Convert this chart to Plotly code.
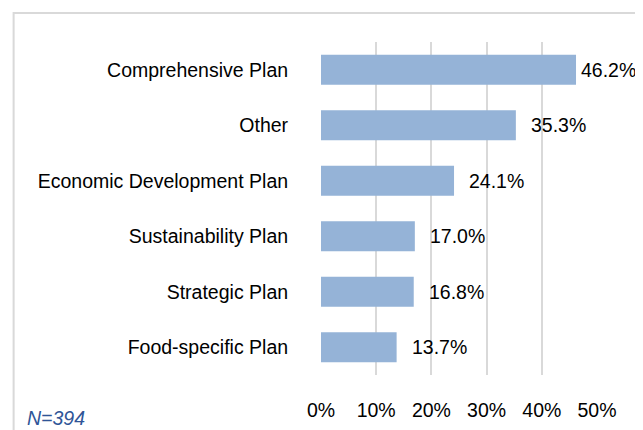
import plotly.graph_objects as go

categories = ["Comprehensive Plan", "Other", "Economic Development Plan",
              "Sustainability Plan", "Strategic Plan", "Food-specific Plan"]
values = [0.462, 0.353, 0.241, 0.170, 0.168, 0.137]
x_ticks = [0, 0.1, 0.2, 0.3, 0.4, 0.5]
x_tick_labels = ["0%", "10%", "20%", "30%", "40%", "50%"]
note_text = "N=394"

FONT = "Liberation Sans, Arial, sans-serif"
FS = 19.5
W, H = 643, 430
OFF = 8  # default page body margin
# target page-pixel plot box: x 320.5..597.5, y 42..375
L = 320.5 - OFF
T = 42 - OFF
R = W - (597.5 - OFF)
B = H - (375 - OFF)
pw, ph = W - L - R, H - T - B

def px_to_paper_x(px):
    return (px - OFF - L) / pw

def px_to_paper_y(py):
    return (H - B - (py - OFF)) / ph

fig = go.Figure()
fig.add_trace(go.Bar(
    x=values, y=categories, orientation="h",
    marker=dict(color="#95B3D7", line=dict(width=0)),
    hoverinfo="skip",
))

for v, c in zip(values, categories):
    fig.add_annotation(
        x=v, y=c, xref="x", yref="y", text=f"{v*100:.1f}%",
        showarrow=False, xanchor="left", yanchor="middle",
        xshift=3 if v > 0.4 else 13,
        font=dict(family=FONT, size=FS, color="#000000"),
    )

fig.add_annotation(
    x=px_to_paper_x(23), y=px_to_paper_y(418), xref="paper", yref="paper",
    text=note_text, showarrow=False, xanchor="left", yanchor="middle",
    font=dict(family=FONT, size=FS, color="#2F5597", style="italic"),
)

fig.add_shape(
    type="rect", xref="paper", yref="paper",
    x0=px_to_paper_x(12), x1=px_to_paper_x(720),
    y0=px_to_paper_y(520), y1=px_to_paper_y(13),
    line=dict(color="#D9D9D9", width=2), fillcolor="rgba(0,0,0,0)", layer="below",
)

fig.update_layout(
    width=W, height=H,
    margin=dict(l=L, r=R, t=T, b=B, pad=0, autoexpand=False),
    paper_bgcolor="#FFFFFF", plot_bgcolor="#FFFFFF",
    showlegend=False, bargap=0.46,
    font=dict(family=FONT, size=FS, color="#000000"),
    xaxis=dict(
        range=[0, 0.5], tickvals=x_ticks, ticktext=x_tick_labels,
        showgrid=True, gridcolor="#D9D9D9", gridwidth=2,
        zeroline=False, showline=False, automargin=False,
        ticks="outside", ticklen=18, tickcolor="rgba(0,0,0,0)",
        tickfont=dict(family=FONT, size=FS, color="#000000"),
        fixedrange=True,
    ),
    yaxis=dict(
        categoryorder="array", categoryarray=categories, autorange="reversed",
        showgrid=False, zeroline=False, showline=False, automargin=False,
        ticks="outside", ticklen=28, tickcolor="rgba(0,0,0,0)",
        tickfont=dict(family=FONT, size=FS, color="#000000"),
        fixedrange=True,
    ),
)

fig.write_html("out.html", config={"displayModeBar": False})
